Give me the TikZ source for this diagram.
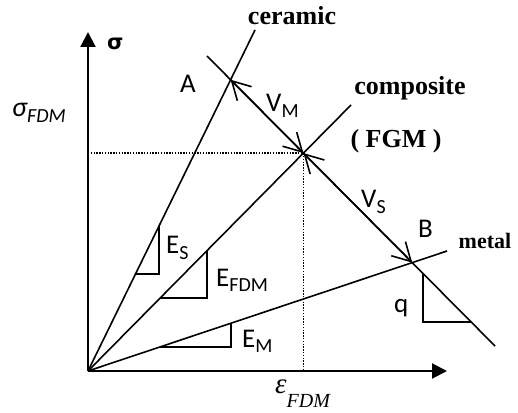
\documentclass[tikz,border=0pt]{standalone}
\usepackage{fontspec}
\setmainfont{Carlito}
\newfontfamily\tms{Liberation Serif}
\newfontfamily\djv{DejaVu Sans}
\usetikzlibrary{arrows.meta,intersections}
\newcommand\lsub[2][20]{\raisebox{-5.5pt}{\fontsize{#1}{#1}\selectfont #2}}
\begin{document}
\begin{tikzpicture}[x=1pt,y=1pt,
  ln/.style={line width=1.6pt},
  ax/.style={line width=2pt,-{Triangle[length=15pt,width=15pt]}},
  dbl/.style={line width=1.6pt,{Straight Barb[length=18pt,width=20pt]}-{Straight Barb[length=18pt,width=20pt]}},
  dots/.style={line width=1.4pt,dash pattern=on 1.4pt off 1.4pt},
  mat/.style={font=\tms\bfseries\fontsize{26}{26}\selectfont, anchor=base, inner sep=0pt},
  lab/.style={font=\fontsize{27}{27}\selectfont, anchor=base west, inner sep=0pt},
]
\useasboundingbox (0,0) rectangle (518,412);
\coordinate (O) at (88,41);
\coordinate (Ytip) at (88,380);
\coordinate (Xtip) at (447,41);
\coordinate (Cer) at (255,382);
\coordinate (Com) at (351,307);
\coordinate (Met) at (447,161);
\coordinate (F1) at (207,356);
\coordinate (F2) at (495,66);
\path[name path=fall] (F1) -- (F2);
\path[name path=cer] (O) -- (Cer);
\path[name path=com] (O) -- (Com);
\path[name path=met] (O) -- (Met);
\path[name intersections={of=fall and cer, by=A}];
\path[name intersections={of=fall and com, by=C}];
\path[name intersections={of=fall and met, by=B}];
% dotted guides
\draw[dots] (O |- C) -- (C) -- (C |- O);
% axes
\draw[ax] (O) -- (Ytip);
\draw[ax] (O) -- (Xtip);
% material lines
\draw[ln] (O) -- (Cer);
\draw[ln] (O) -- (Com);
\draw[ln] (O) -- (Met);
\draw[ln] (F1) -- (F2);
% double arrows
\draw[dbl] (C) -- (A);
\draw[dbl] (C) -- (B);
% slope triangles
\draw[ln] (135.5,138) -- (159,138) -- (159,186);
\draw[ln] (160.2,114) -- (207,114) -- (207,161.3);
\draw[ln] (159.8,65) -- (231,65) -- (231,88.8);
\draw[ln] (423,138.5) -- (423,90) -- (471.2,90);
% material labels
\node[mat] (lcer) at (292,387) {ceramic};
\node[mat] (lcom) at (410,317) {composite};
\node[mat] (lfgm) at (396,264) {( FGM )};
\node[mat, font=\tms\bfseries\fontsize{22}{22}\selectfont] (lmet) at (485,163) {metal};
% point labels
\node[lab] (lA) at (180,319) {A};
\node[lab] (lVM) at (266,300) {V\lsub{M}};
\node[lab] (lVS) at (361,204) {V\lsub{S}};
\node[lab] (lB) at (418,174) {B};
\node[lab] (lq) at (394,100) {q};
\node[lab] (lES) at (166,158) {E\lsub{S}};
\node[lab] (lEF) at (216,126) {E\lsub{FDM}};
\node[lab] (lEM) at (242,65) {E\lsub{M}};
% axis labels
\node[lab, font=\itshape\fontsize{28}{28}\selectfont] (lsF) at (12,295) {σ\lsub[20]{FDM}};
\node[anchor=base west, inner sep=0pt, font=\djv\bfseries\fontsize{21}{21}\selectfont] (lsig) at (107,362) {σ};
\node[anchor=base west, inner sep=0pt, font=\tms\itshape\fontsize{29}{29}\selectfont] (leF) at (275,19) {ε\raisebox{-14pt}{\fontsize{20}{20}\selectfont FDM}};
\end{tikzpicture}
\end{document}
